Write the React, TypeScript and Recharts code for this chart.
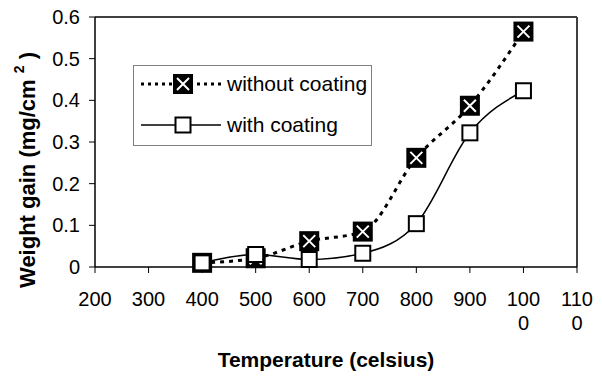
import React from "react";
import { LineChart, Line, XAxis, YAxis, Legend, ReferenceLine } from "recharts";

const temperatures = [400, 500, 600, 700, 800, 900, 1000];
const withoutCoating = [0.01, 0.021, 0.062, 0.085, 0.262, 0.387, 0.565];
const withCoating = [0.01, 0.03, 0.018, 0.033, 0.104, 0.322, 0.423];

const xTicks = [200, 300, 400, 500, 600, 700, 800, 900, 1000, 1100];
const xTickLabels = ["200", "300", "400", "500", "600", "700", "800", "900", "100\n0", "110\n0"];
const yTicks = [0, 0.1, 0.2, 0.3, 0.4, 0.5, 0.6];
const yTickLabels = ["0", "0.1", "0.2", "0.3", "0.4", "0.5", "0.6"];

const seriesNames = ["without coating", "with coating"];

const data = temperatures.map((t, i) => ({
  t,
  without: withoutCoating[i],
  with: withCoating[i],
}));

const FONT = "'Liberation Sans', Arial, sans-serif";

const BlackX = (props: any) => {
  const { cx, cy } = props;
  if (cx == null || cy == null) return <g key={props.key} />;
  return (
    <g key={props.key ?? `bx-${cx}`}>
      <rect x={cx - 10} y={cy - 10} width={20} height={20} fill="#000" />
      <path d={`M${cx - 6},${cy - 6}L${cx + 6},${cy + 6}M${cx + 6},${cy - 6}L${cx - 6},${cy + 6}`} stroke="#fff" strokeWidth={2} />
    </g>
  );
};

const WhiteSq = (props: any) => {
  const { cx, cy } = props;
  if (cx == null || cy == null) return <g key={props.key} />;
  return (
    <rect key={props.key ?? `ws-${cx}`} x={cx - 7.5} y={cy - 7.5} width={15} height={15} fill="#fff" stroke="#000" strokeWidth={2} />
  );
};

const XTick = (props: any) => {
  const { x, y, payload } = props;
  const idx = xTicks.indexOf(payload.value);
  const label = idx >= 0 ? xTickLabels[idx] : String(payload.value);
  const lines = label.split("\n");
  return (
    <text x={x} y={y} textAnchor="middle" fontFamily={FONT} fontSize={20} fill="#000">
      {lines.map((l, i) => (
        <tspan key={i} x={x} dy={i === 0 ? 31 : 24}>
          {l}
        </tspan>
      ))}
    </text>
  );
};

const YTick = (props: any) => {
  const { x, y, payload } = props;
  const idx = yTicks.indexOf(payload.value);
  const label = idx >= 0 ? yTickLabels[idx] : String(payload.value);
  return (
    <text x={x} y={y} dy={7} textAnchor="end" fontFamily={FONT} fontSize={20} fill="#000">
      {label}
    </text>
  );
};

const LegendBox = () => (
  <svg width={239} height={81} style={{ display: "block" }}>
    <rect x={0.5} y={0.5} width={238} height={80} fill="#fff" stroke="#808080" strokeWidth={1} />
    <line x1={8} y1={19} x2={88} y2={19} stroke="#000" strokeWidth={3} strokeDasharray="3 4" />
    <rect x={40} y={9} width={20} height={20} fill="#000" />
    <path d="M44,13L56,25M56,13L44,25" stroke="#fff" strokeWidth={2} />
    <text x={94} y={26} fontFamily={FONT} fontSize={21} fill="#000">{seriesNames[0]}</text>
    <line x1={8} y1={60} x2={88} y2={60} stroke="#000" strokeWidth={1.5} />
    <rect x={42.5} y={52.5} width={15} height={15} fill="#fff" stroke="#000" strokeWidth={2} />
    <text x={94} y={67} fontFamily={FONT} fontSize={21} fill="#000">{seriesNames[1]}</text>
  </svg>
);

const YLabel = () => (
  <text
    x={27}
    y={170}
    transform="rotate(-90 27 170)"
    textAnchor="middle"
    dominantBaseline="central"
    fontFamily={FONT}
    fontSize={22}
    fontWeight="bold"
    fill="#000"
  >
    Weight gain (mg/cm <tspan fontSize={14} dy={-8}>2</tspan>
    <tspan dy={8}> )</tspan>
  </text>
);

const XLabel = () => (
  <text x={326} y={367} textAnchor="middle" fontFamily={FONT} fontSize={21} fontWeight="bold" fill="#000">
    Temperature (celsius)
  </text>
);

export default function App() {
  return (
    <div style={{ position: "absolute", left: 0, top: 0, width: 602, height: 383, background: "#fff" }}>
      <LineChart width={602} height={383} data={data} margin={{ top: 17, right: 25, left: 0, bottom: 0 }}>
        <XAxis
          dataKey="t"
          type="number"
          domain={[200, 1100]}
          ticks={xTicks}
          interval={0}
          axisLine={{ stroke: "#000", strokeWidth: 1.5 }}
          tickLine={{ stroke: "#000", strokeWidth: 1 }}
          tickSize={6}
          tickMargin={2}
          height={116}
          tick={<XTick />}
          label={<XLabel />}
        />
        <YAxis
          type="number"
          domain={[0, 0.6]}
          ticks={yTicks}
          interval={0}
          width={95}
          axisLine={{ stroke: "#000", strokeWidth: 1.5 }}
          tickLine={{ stroke: "#000", strokeWidth: 1 }}
          tickSize={6}
          tickMargin={9}
          tick={<YTick />}
          label={<YLabel />}
        />
        <ReferenceLine y={0.6} stroke="#404040" strokeWidth={2} />
        <ReferenceLine x={1100} stroke="#404040" strokeWidth={2} />
        <Line
          dataKey="without"
          name={seriesNames[0]}
          type="monotone"
          stroke="#000"
          strokeWidth={3}
          strokeDasharray="4 5"
          dot={(p: any) => <BlackX {...p} />}
          activeDot={false}
          isAnimationActive={false}
        />
        <Line
          dataKey="with"
          name={seriesNames[1]}
          type="monotone"
          stroke="#000"
          strokeWidth={1.5}
          dot={(p: any) => <WhiteSq {...p} />}
          activeDot={false}
          isAnimationActive={false}
        />
        <Legend
          layout="horizontal"
          verticalAlign="middle"
          align="center"
          content={() => <LegendBox />}
          wrapperStyle={{ position: "absolute", left: 133, top: 65, width: 239, height: 81 }}
        />
      </LineChart>
    </div>
  );
}
